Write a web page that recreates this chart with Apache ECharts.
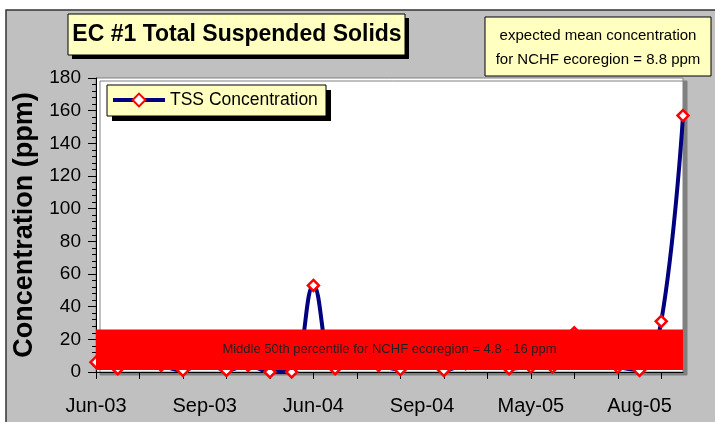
<!DOCTYPE html>
<html><head><meta charset="utf-8">
<script src="https://cdn.jsdelivr.net/npm/echarts@6/dist/echarts.min.js"></script>
<style>html,body{margin:0;padding:0;background:#fff}#c{width:715px;height:422px}</style>
</head><body><div id="c"></div>
<script>
// ---- data ----
const sampleDates = [
  '2003-06-10','2003-06-24','2003-07-08','2003-07-22','2003-08-12',
  '2003-09-09','2003-09-23','2003-10-07','2004-04-20','2004-05-18',
  '2004-06-08','2004-06-22','2004-07-13','2004-07-27','2004-08-17',
  '2004-09-14','2004-10-05','2004-10-19','2005-04-12','2005-04-26',
  '2005-05-10','2005-06-07','2005-06-28','2005-07-12','2005-07-26',
  '2005-08-09','2005-08-23','2005-09-13'
];
const tssValues = [6, 2, 8, 4, 1, 6, 1, 4, 0, 0, 53, 2, 6, 4, 1.5, 7, 1, 5, 8, 2, 3, 3, 24, 6, 3, 1, 31, 157];
const seriesName = 'TSS Concentration';
const yMin = 0, yMax = 180, yStep = 20;
const percentileBand = [1.2, 26];
const bandLabel = 'Middle 50th percentile for NCHF ecoregion = 4.8 - 16 ppm';
const chartTitle = 'EC #1 Total Suspended Solids';
const infoText = 'expected mean concentration\nfor NCHF ecoregion = 8.8 ppm';
const yAxisTitle = 'Concentration (ppm)';
const monthNames = ['Jan','Feb','Mar','Apr','May','Jun','Jul','Aug','Sep','Oct','Nov','Dec'];

const FONT = '"Liberation Sans", Arial, sans-serif';
function fmtDate(s) {
  const p = s.split('-');
  return monthNames[parseInt(p[1], 10) - 1] + '-' + p[0].slice(2);
}

const chart = echarts.init(document.getElementById('c'), null, {renderer: 'canvas'});
chart.setOption({
  backgroundColor: '#ffffff',
  animation: false,
  textStyle: {fontFamily: FONT},
  title: [
    {text: chartTitle, left: 237, top: 23, textAlign: 'center', padding: 0,
     textStyle: {fontFamily: FONT, fontSize: 23, fontWeight: 'bold', color: '#000', lineHeight: 23}},
    {text: infoText, left: 598, top: 24, textAlign: 'center', padding: 0,
     textStyle: {fontFamily: FONT, fontSize: 15, fontWeight: 'normal', color: '#000', lineHeight: 24}}
  ],
  graphic: [
    {type: 'rect', z: -10, shape: {x: 6, y: 10, width: 720, height: 420},
     style: {fill: '#C0C0C0', stroke: '#333', lineWidth: 1.5}},
    {type: 'rect', z: 1, shape: {x: 72, y: 18, width: 337, height: 41}, style: {fill: '#000'}},
    {type: 'rect', z: 2, shape: {x: 68, y: 14, width: 337, height: 41},
     style: {fill: '#FFFFC0', stroke: '#000', lineWidth: 1}},
    {type: 'rect', z: 2, shape: {x: 485, y: 17, width: 226, height: 59},
     style: {fill: '#FFFFC0', stroke: '#000', lineWidth: 1}},
    {type: 'rect', z: 3, shape: {x: 112, y: 90, width: 219, height: 31}, style: {fill: '#000'}},
    {type: 'rect', z: 3, shape: {x: 107, y: 85, width: 219, height: 31},
     style: {fill: '#FFFFC0', stroke: '#000', lineWidth: 1}}
  ],
  legend: {
    left: 111, top: 91, padding: 0, z: 10,
    itemWidth: 52, itemHeight: 16, itemGap: 0,
    lineStyle: {width: 4, color: '#000080'},
    textStyle: {fontFamily: FONT, fontSize: 17.5, color: '#000', padding: [0, 0, 0, 0]},
    data: [seriesName]
  },
  grid: {
    left: 96, top: 78, right: 32, bottom: 50, show: true,
    backgroundColor: '#fff', borderColor: '#808080', borderWidth: 1,
    shadowColor: '#808080', shadowOffsetX: 4, shadowOffsetY: 3, shadowBlur: 0
  },
  xAxis: {
    type: 'category', data: sampleDates, boundaryGap: false,
    axisLine: {lineStyle: {color: '#000', width: 1}},
    axisTick: {show: true, interval: 1, length: 7, lineStyle: {color: '#000'}},
    axisLabel: {interval: 4, formatter: fmtDate, margin: 24, fontSize: 20, color: '#000', fontFamily: FONT},
    splitLine: {show: false}
  },
  yAxis: {
    type: 'value', min: yMin, max: yMax, interval: yStep,
    name: yAxisTitle, nameLocation: 'middle', nameGap: 50,
    nameTextStyle: {fontFamily: FONT, fontSize: 27, fontWeight: 'bold', color: '#000'},
    axisLine: {show: true, lineStyle: {color: '#000', width: 1}},
    axisTick: {show: true, length: 8, lineStyle: {color: '#000'}},
    minorTick: {show: true, splitNumber: 5, length: 4, lineStyle: {color: '#000'}},
    axisLabel: {fontSize: 19, margin: 15, color: '#000', fontFamily: FONT},
    splitLine: {show: false}
  },
  series: [
    {
      name: seriesName, type: 'line', data: tssValues, z: 3,
      smooth: 0.4,
      symbol: 'diamond', symbolSize: 11, showAllSymbol: true,
      lineStyle: {color: '#000080', width: 4},
      itemStyle: {color: '#ffffff', borderColor: '#ff0000', borderWidth: 2.5},
      clip: false
    },
    {
      name: 'band', type: 'line', data: [], z: 8,
      markArea: {
        silent: true, z: 8,
        itemStyle: {color: '#ff0000', opacity: 1},
        label: {show: true, position: 'inside', color: '#222', fontSize: 13, fontFamily: FONT},
        data: [[{yAxis: percentileBand[0], name: bandLabel}, {yAxis: percentileBand[1]}]]
      }
    }
  ]
});
</script></body></html>
